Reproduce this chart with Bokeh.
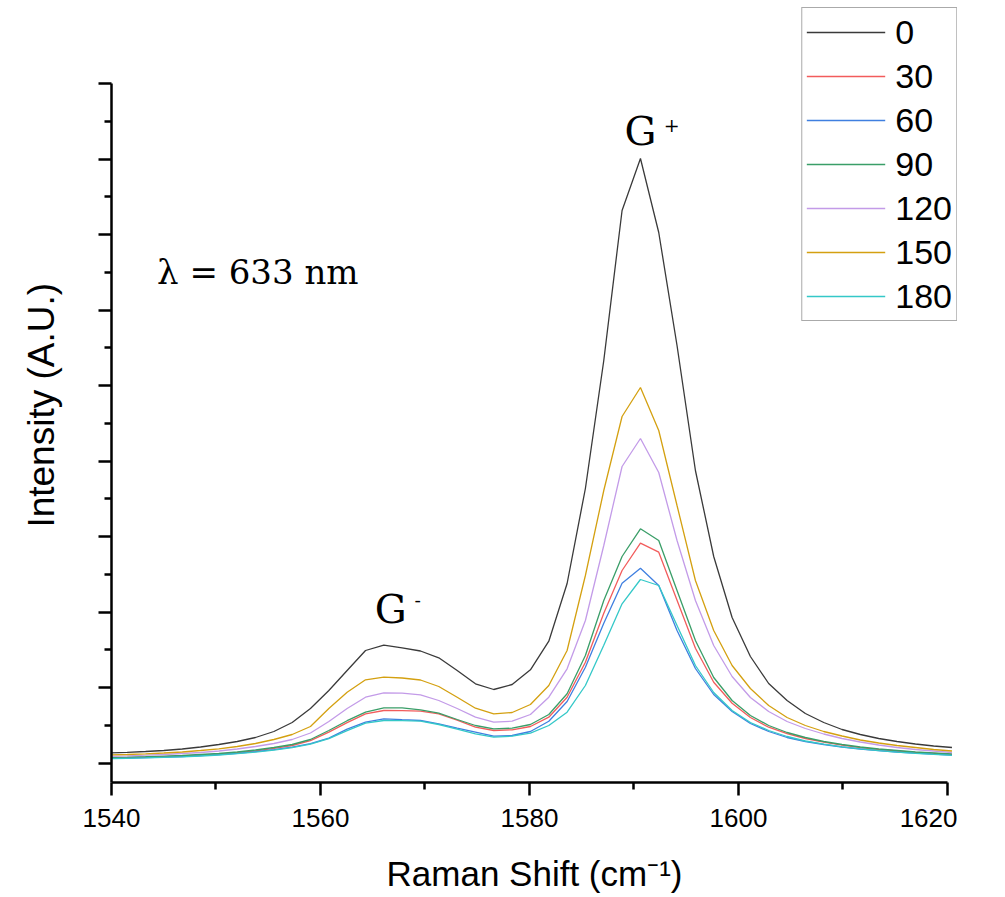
import math
from bokeh.plotting import figure
from bokeh.models import Range1d, FixedTicker, Label, CustomJSTickFormatter
from bokeh.embed import file_html
from bokeh.resources import INLINE

# Raman shift (cm^-1)
shift = [1539.75, 1541.50, 1543.26, 1545.01, 1546.77, 1548.52, 1550.27, 1552.03,
         1553.78, 1555.54, 1557.29, 1559.04, 1560.80, 1562.55, 1564.31, 1566.06,
         1567.81, 1569.57, 1571.32, 1573.08, 1574.83, 1576.58, 1578.34, 1580.09,
         1581.85, 1583.60, 1585.35, 1587.11, 1588.86, 1590.62, 1592.37, 1594.12,
         1595.88, 1597.63, 1599.39, 1601.14, 1602.89, 1604.65, 1606.40, 1608.16,
         1609.91, 1611.66, 1613.42, 1615.17, 1616.93, 1618.68, 1620.43]

# Intensities (arbitrary units)
i0 = [10.2, 10.9, 11.7, 12.7, 14.2, 16.2, 18.7, 21.7, 25.7, 31.7, 40.7, 54.7, 72.7, 92.7, 112.7,
      118.0, 115.4, 112.2, 105.4, 92.7, 79.4, 73.7, 78.7, 93.4, 122.0,
      179.7, 274.7, 402.7, 552.7, 604.7, 530.7, 417.7, 292.7, 206.7, 145.7,
      106.7, 79.7, 62.7, 49.7, 40.7, 33.7, 28.7, 24.7, 21.7, 19.2, 17.2, 15.7]
i30 = [5.2, 5.6, 6.1, 6.6, 7.2, 8.1, 9.1, 10.5, 12.4, 14.8, 17.7, 22.5, 31.0, 40.5, 49.4,
       52.7, 52.5, 52.0, 49.4, 43.0, 36.0, 32.7, 33.4, 36.7, 46.0,
       66.0, 101.0, 150.0, 192.7, 220.0, 211.0, 163.0, 115.0, 81.0, 60.0,
       45.7, 36.0, 29.5, 24.7, 21.0, 18.0, 15.6, 13.7, 12.2, 10.8, 9.8, 8.8]
i60 = [4.7, 5.1, 5.5, 6.0, 6.6, 7.5, 8.5, 9.8, 11.5, 13.5, 16.0, 19.5, 25.0, 34.0, 41.0,
       44.4, 43.5, 42.7, 39.4, 35.0, 31.0, 27.0, 27.7, 31.7, 42.0,
       61.7, 96.0, 140.0, 180.0, 195.0, 177.7, 132.7, 94.7, 68.7, 51.7,
       39.7, 31.7, 25.7, 21.7, 18.7, 16.2, 14.2, 12.6, 11.2, 10.0, 9.0, 8.0]
i90 = [5.7, 6.0, 6.5, 7.1, 7.7, 8.7, 9.7, 11.2, 13.2, 15.7, 18.7, 23.7, 32.7, 42.5, 51.0,
       55.4, 55.4, 53.4, 50.0, 43.7, 37.7, 34.4, 35.0, 38.7, 48.7,
       69.4, 107.7, 162.7, 206.7, 234.4, 222.7, 172.7, 122.7, 85.7, 62.7,
       47.7, 37.7, 30.7, 25.7, 21.7, 18.7, 16.2, 14.2, 12.7, 11.2, 10.2, 9.2]
i120 = [6.9, 7.4, 8.0, 8.7, 9.7, 10.7, 12.2, 14.2, 16.7, 19.7, 23.7, 30.2, 41.7, 54.7, 66.0,
        70.4, 70.0, 68.4, 62.7, 54.7, 46.0, 41.0, 42.0, 48.7, 66.0,
        94.4, 142.7, 217.7, 296.7, 324.7, 290.7, 222.7, 162.7, 117.7, 86.7,
        65.7, 51.7, 41.7, 34.7, 29.2, 24.7, 21.2, 18.2, 15.7, 13.7, 12.2, 10.7]
i150 = [8.2, 8.7, 9.4, 10.2, 11.2, 12.7, 14.4, 16.7, 19.7, 23.7, 28.7, 36.7, 54.7, 71.0, 83.4,
        86.0, 85.2, 83.2, 76.7, 66.0, 55.0, 49.4, 50.7, 58.7, 77.7,
        112.7, 187.7, 272.7, 346.7, 375.7, 332.7, 257.7, 182.7, 132.7, 97.7,
        74.7, 57.7, 45.7, 37.7, 31.7, 27.2, 23.2, 20.2, 17.7, 15.7, 13.7, 12.2]
i180 = [4.5, 4.9, 5.3, 5.8, 6.4, 7.2, 8.2, 9.5, 11.1, 13.1, 15.5, 19.0, 24.5, 32.5, 40.0,
        42.7, 42.5, 42.0, 38.7, 34.0, 29.4, 26.0, 27.0, 30.0, 37.7,
        51.0, 77.7, 118.0, 159.4, 183.7, 177.7, 137.7, 97.7, 70.7, 52.7,
        40.7, 32.7, 26.7, 22.2, 19.0, 16.4, 14.3, 12.6, 11.1, 9.9, 8.8, 7.8]

series_names = ["0", "30", "60", "90", "120", "150", "180"]
series_values = [i0, i30, i60, i90, i120, i150, i180]
series_colors = ["#3a3a3a", "#f25c5c", "#3f7fe0", "#3a9e68", "#c39be8", "#d4a010", "#34c8c8"]

x_ticks = [1540, 1560, 1580, 1600, 1620]
x_minor = [1550, 1570, 1590, 1610]
y_ticks = [0, 75.5, 151, 226.5, 302, 377.5, 453, 528.5, 604, 679.5]
y_minor = [37.75, 113.25, 188.75, 264.25, 339.75, 415.25, 490.75, 566.25, 641.75]

SANS = "Liberation Sans"
SERIF = "DejaVu Serif"

p = figure(width=957, height=897, output_backend="svg", toolbar_location=None,
           x_range=Range1d(1540, 1620.96), y_range=Range1d(-19.3, 755.7),
           min_border_left=111, min_border_right=0, min_border_top=7, min_border_bottom=115)
p.outline_line_color = None
p.grid.visible = False
p.background_fill_color = "white"
p.border_fill_color = "white"

for name, vals, col in zip(series_names, series_values, series_colors):
    p.line(shift, vals, line_color=col, line_width=1.3, legend_label=name)

# axes
p.xaxis.ticker = FixedTicker(ticks=x_ticks, minor_ticks=x_minor)
p.xaxis.bounds = (1540, 1620)
p.yaxis.ticker = FixedTicker(ticks=y_ticks, minor_ticks=y_minor)
p.yaxis.bounds = (-19.3, 679.7)
for ax in (p.xaxis, p.yaxis):
    ax.axis_line_width = 2.5
    ax.axis_line_color = "black"
    ax.major_tick_line_width = 2.5
    ax.minor_tick_line_width = 2.5
    ax.major_tick_line_color = "black"
    ax.minor_tick_line_color = "black"
    ax.major_tick_in = 0
    ax.minor_tick_in = 0
    ax.major_tick_out = 13
    ax.minor_tick_out = 7
    ax.axis_label_text_font = SANS
    ax.axis_label_text_font_style = "normal"
    ax.axis_label_text_color = "black"
p.xaxis.major_label_text_font = SANS
p.xaxis.major_label_text_font_size = "26px"
p.xaxis.major_label_text_color = "black"
p.xaxis.major_label_standoff = 13
p.xaxis.axis_label = "Raman Shift (cm\u207b\u00b9)"
p.xaxis.axis_label_text_font_size = "35px"
p.xaxis.axis_label_standoff = 24
p.yaxis.formatter = CustomJSTickFormatter(code="return '';")
p.yaxis.major_label_standoff = 0
p.yaxis.axis_label = "Intensity (A.U.)\u00a0\u00a0"
p.yaxis.axis_label_text_font_size = "37px"
p.yaxis.axis_label_standoff = 37

# annotations
p.add_layout(Label(x=1544.36, y=491.0, text="\u03bb = 633 nm", text_font=SERIF,
                   text_font_size="34px", text_baseline="alphabetic", text_color="black"))
p.add_layout(Label(x=1589.1, y=632.0, text="G", text_font=SERIF,
                   text_font_size="40px", text_baseline="alphabetic", text_color="black"))
p.add_layout(Label(x=1593.6, y=638.5, text="+", text_font=SERIF, text_align="center",
                   text_font_size="19px", text_baseline="alphabetic", text_color="black"))
p.add_layout(Label(x=1565.2, y=154.4, text="G", text_font=SERIF,
                   text_font_size="40px", text_baseline="alphabetic", text_color="black"))
p.add_layout(Label(x=1569.3, y=163.0, text="-", text_font=SERIF, text_align="center",
                   text_font_size="19px", text_baseline="alphabetic", text_color="black"))

# legend
lg = p.legend[0]
lg.location = "top_right"
lg.margin = 0
lg.padding = 4
lg.spacing = 4
lg.label_height = 40
lg.glyph_height = 40
lg.glyph_width = 79
lg.label_standoff = 10
lg.label_text_font = SANS
lg.label_text_font_size = "34px"
lg.label_text_color = "black"
lg.border_line_color = "#555555"
lg.border_line_width = 1.5
lg.background_fill_color = "white"
lg.background_fill_alpha = 1.0

open("out.html", "w").write(file_html(p, INLINE))
